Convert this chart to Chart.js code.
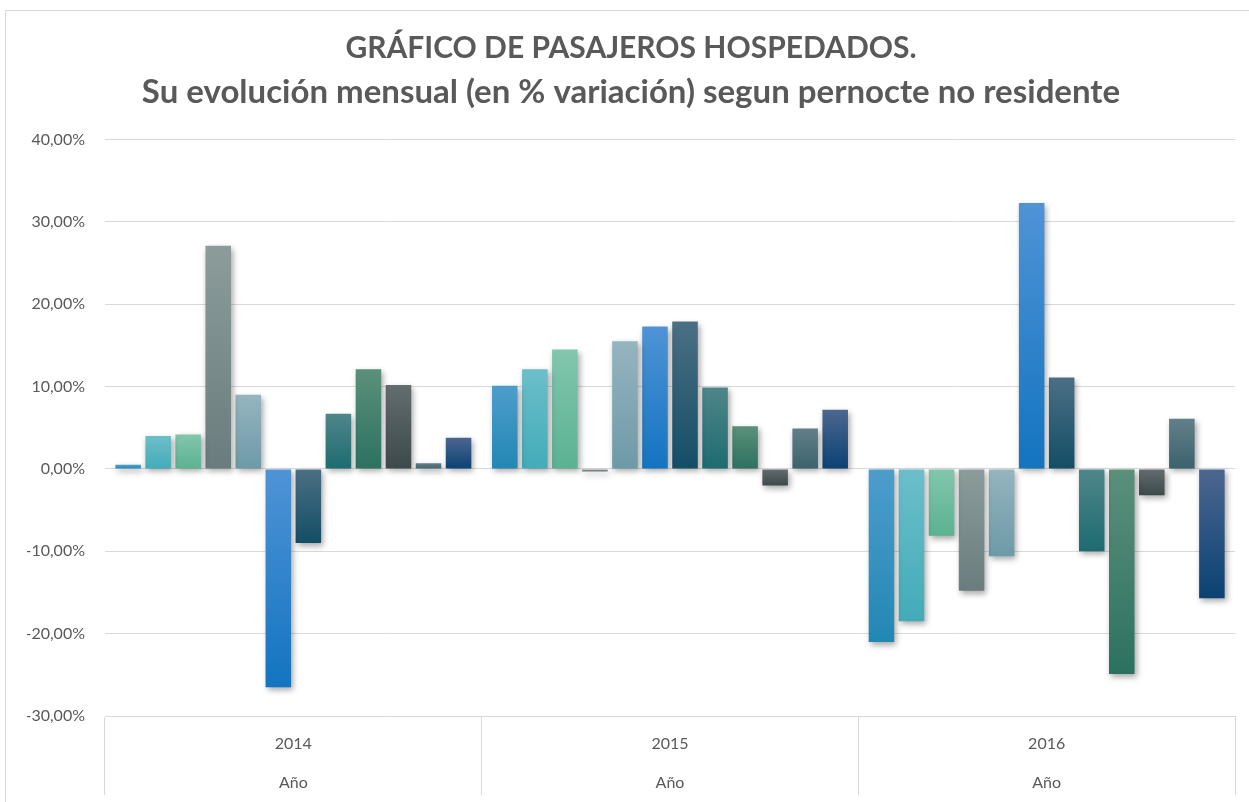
<!DOCTYPE html>
<html>
<head>
<meta charset="utf-8">
<script src="https://cdn.jsdelivr.net/npm/chart.js@4"></script>
<style>
  body { margin: 0; background: #fff; }
  .wrap { position: relative; width: 1249px; height: 802px; }
  .frame { position: absolute; left: 5px; top: 10px; width: 1260px; height: 800px; border: 1px solid #d9d9d9; box-sizing: border-box; }
  canvas { position: absolute; left: 0; top: 0; }
</style>
</head>
<body>
<div class="wrap">
  <div class="frame"></div>
  <canvas id="pasajerosChart" width="1249" height="802"></canvas>
</div>
<script>
// data (% variation by month)
const years = ['2014', '2015', '2016'];
const groupLabel = 'Año';
const months = ['Enero', 'Febrero', 'Marzo', 'Abril', 'Mayo', 'Junio', 'Julio', 'Agosto', 'Septiembre', 'Octubre', 'Noviembre', 'Diciembre'];
const y2014 = [0.5, 4.0, 4.2, 27.1, 9.0, -26.5, -9.0, 6.7, 12.1, 10.2, 0.7, 3.8];
const y2015 = [10.1, 12.1, 14.5, -0.3, 15.5, 17.3, 17.9, 9.9, 5.2, -2.0, 4.9, 7.2];
const y2016 = [-21.0, -18.5, -8.1, -14.8, -10.6, 32.3, 11.1, -10.0, -24.9, -3.2, 6.1, -15.7];
const yTicks = [-30, -20, -10, 0, 10, 20, 30, 40];

// gradient colours per month (top -> bottom)
const topColors = ['#4d9dcc', '#6bbfca', '#82c6ad', '#8b9c9b', '#95b5bf', '#4f93d6', '#4b6f84', '#4f868a', '#5b907b', '#646c6e', '#627f88', '#4c6690'];
const bottomColors = ['#2287b4', '#43abb8', '#5bb292', '#6a7c7d', '#6d9aa7', '#1374c0', '#134e66', '#1d6b70', '#2c7160', '#3c494b', '#3c626d', '#0a4273'];

const yearValues = [y2014, y2015, y2016];

function barGradient(i) {
  return function (context) {
    const chart = context.chart;
    const yScale = chart.scales.y;
    if (!chart.chartArea || !yScale || context.parsed == null) return topColors[i];
    const v = context.parsed.y;
    const p0 = yScale.getPixelForValue(0);
    const p1 = yScale.getPixelForValue(v);
    const top = Math.min(p0, p1);
    const bottom = Math.max(p0, p1);
    if (bottom - top < 1) return bottomColors[i];
    const g = chart.ctx.createLinearGradient(0, top, 0, bottom);
    g.addColorStop(0, topColors[i]);
    g.addColorStop(1, bottomColors[i]);
    return g;
  };
}

const datasets = months.map(function (m, i) {
  return {
    label: m,
    data: yearValues.map(function (arr) { return arr[i]; }),
    backgroundColor: barGradient(i),
    borderWidth: 0,
    categoryPercentage: 0.957,
    barPercentage: 0.85
  };
});

// soft drop shadow under the bars
const barShadow = {
  id: 'barShadow',
  beforeDatasetsDraw: function (chart) {
    const ctx = chart.ctx;
    ctx.save();
    ctx.shadowColor = 'rgba(0,0,0,0.35)';
    ctx.shadowBlur = 6;
    ctx.shadowOffsetX = 2;
    ctx.shadowOffsetY = 3;
  },
  afterDatasetsDraw: function (chart) {
    chart.ctx.restore();
  }
};

const ctx = document.getElementById('pasajerosChart').getContext('2d');
new Chart(ctx, {
  type: 'bar',
  data: {
    labels: years.map(function (y) { return [y, groupLabel]; }),
    datasets: datasets
  },
  options: {
    responsive: false,
    animation: false,
    layout: { padding: { left: 27, right: 14, top: 0, bottom: 0 } },
    plugins: {
      legend: { display: false },
      tooltip: { enabled: false },
      title: {
        display: true,
        text: 'GRÁFICO DE PASAJEROS HOSPEDADOS.',
        color: '#595959',
        font: { family: 'Lato', size: 30, weight: 'bold', lineHeight: 1.2 },
        padding: { top: 30, bottom: 7 }
      },
      subtitle: {
        display: true,
        text: 'Su evolución mensual (en % variación) segun pernocte no residente',
        color: '#595959',
        font: { family: 'Lato', size: 33, weight: 'bold', lineHeight: 1.2 },
        padding: { top: 0, bottom: 27 }
      }
    },
    scales: {
      x: {
        grid: {
          offset: true,
          drawOnChartArea: false,
          tickLength: 79,
          color: '#d9d9d9'
        },
        border: { color: '#d9d9d9' },
        ticks: {
          color: '#595959',
          font: { family: 'Lato', size: 16, lineHeight: 2.4 },
          padding: -70,
          maxRotation: 0
        },
        afterFit: function (axis) {
          axis.height = 86;
        }
      },
      y: {
        min: -30,
        max: 40,
        afterBuildTicks: function (axis) {
          axis.ticks = yTicks.map(function (v) { return { value: v }; });
        },
        grid: { color: '#d9d9d9', drawTicks: false },
        border: { display: false },
        ticks: {
          color: '#595959',
          font: { family: 'Lato', size: 16 },
          padding: 20,
          callback: function (v) { return v.toFixed(2).replace('.', ',') + '%'; }
        },
        afterFit: function (axis) {
          axis.width = 78;
        }
      }
    }
  },
  plugins: [barShadow]
});
</script>
</body>
</html>
